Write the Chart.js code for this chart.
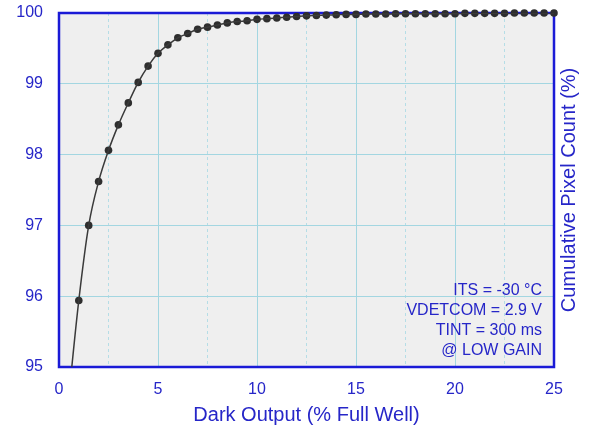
<!DOCTYPE html>
<html>
<head>
<meta charset="utf-8">
<title>Cumulative dark output</title>
<script src="https://cdn.jsdelivr.net/npm/chart.js@4.4.1/dist/chart.umd.min.js"></script>
<style>
  html, body { margin: 0; padding: 0; background: #ffffff; }
  #wrap { width: 594px; height: 430px; }
</style>
</head>
<body>
<div id="wrap"><canvas id="chart" width="594" height="430"></canvas></div>
<script>
// measured points (Dark Output % full well -> cumulative pixel count %)
const darkOutput = [1.0, 1.5, 2.0, 2.5, 3.0, 3.5, 4.0, 4.5, 5.0, 5.5, 6.0, 6.5, 7.0, 7.5, 8.0, 8.5,
    9.0, 9.5, 10.0, 10.5, 11.0, 11.5, 12.0, 12.5, 13.0, 13.5, 14.0, 14.5, 15.0, 15.5, 16.0, 16.5,
    17.0, 17.5, 18.0, 18.5, 19.0, 19.5, 20.0, 20.5, 21.0, 21.5, 22.0, 22.5, 23.0, 23.5, 24.0, 24.5, 25.0];
const pixelCount = [95.94, 97.00, 97.62, 98.06, 98.42, 98.73, 99.02, 99.25, 99.43, 99.55, 99.65, 99.71,
    99.77, 99.80, 99.83, 99.86, 99.88, 99.89, 99.91, 99.92, 99.93, 99.94, 99.95, 99.96, 99.965, 99.97,
    99.975, 99.98, 99.98, 99.985, 99.985, 99.985, 99.99, 99.99, 99.99, 99.99, 99.99, 99.99, 99.99,
    99.995, 99.995, 99.995, 99.995, 99.995, 100.0, 100.0, 100.0, 100.0, 100.0];

// fitted curve (starts below the visible range and is clipped)
const fitX = [0.5, ...darkOutput];
const fitY = [94.6, ...pixelCount];

const xTicks = [0, 5, 10, 15, 20, 25];
const yTicks = [95, 96, 97, 98, 99, 100];
const notes = ['ITS = -30 \u00B0C', 'VDETCOM = 2.9 V', 'TINT = 300 ms', '@ LOW GAIN'];

const BLUE_TEXT = '#2626c8';
const BLUE_LINE = '#1a1ad6';
const FONT = "'Liberation Sans', Arial, Helvetica, sans-serif";

Chart.defaults.font.family = FONT;

const toXY = (xs, ys) => xs.map((x, i) => ({ x, y: ys[i] }));

// drop the label overhang so the layout padding alone sets the plot edges
const noOverhang = (s) => {
    s.paddingTop = 0;
    s.paddingBottom = 0;
    s.paddingLeft = 0;
    s.paddingRight = 0;
};

// plot background + frame + right-hand title + notes
const frame = {
    id: 'frame',
    beforeDraw(chart) {
        const { ctx, chartArea: a } = chart;
        ctx.save();
        ctx.fillStyle = '#efefef';
        ctx.fillRect(a.left, a.top, a.right - a.left, a.bottom - a.top);
        ctx.restore();
    },
    beforeDatasetsDraw(chart) {
        const { ctx, chartArea: a } = chart;
        ctx.save();
        ctx.strokeStyle = BLUE_LINE;
        ctx.lineWidth = 2.5;
        ctx.strokeRect(a.left, a.top, a.right - a.left, a.bottom - a.top);
        ctx.restore();
    },
    afterDraw(chart) {
        const { ctx, chartArea: a } = chart;
        ctx.save();
        ctx.fillStyle = BLUE_TEXT;
        ctx.font = '20px ' + FONT;
        ctx.textAlign = 'center';
        ctx.textBaseline = 'middle';
        ctx.translate(a.right + 15, (a.top + a.bottom) / 2);
        ctx.rotate(-Math.PI / 2);
        ctx.fillText('Cumulative Pixel Count (%)', 0, 0);
        ctx.restore();

        ctx.save();
        ctx.fillStyle = BLUE_TEXT;
        ctx.font = '16px ' + FONT;
        ctx.textAlign = 'right';
        ctx.textBaseline = 'middle';
        notes.forEach((t, i) => {
            ctx.fillText(t, a.right - 12, a.bottom - 76 + i * 19.7);
        });
        ctx.restore();
    }
};

new Chart(document.getElementById('chart'), {
    type: 'scatter',
    data: {
        datasets: [
            {
                label: 'fit',
                type: 'line',
                data: toXY(fitX, fitY),
                borderColor: '#3a3a3a',
                borderWidth: 1.5,
                pointRadius: 0,
                tension: 0.4,
                cubicInterpolationMode: 'monotone',
                fill: false
            },
            {
                label: 'measured',
                data: toXY(darkOutput, pixelCount),
                backgroundColor: '#2e2e2e',
                borderColor: '#2e2e2e',
                pointRadius: 3.8,
                borderWidth: 0,
                clip: false
            }
        ]
    },
    options: {
        responsive: false,
        animation: false,
        layout: { padding: { top: 13, right: 0, bottom: 0, left: 0 } },
        plugins: {
            legend: { display: false },
            tooltip: { enabled: false }
        },
        scales: {
            x: {
                type: 'linear',
                min: 0,
                max: 25,
                afterFit(s) { s.height = 63; noOverhang(s); },
                afterBuildTicks(s) {
                    const t = [];
                    for (let v = 0; v <= 25; v += 2.5) t.push({ value: v });
                    s.ticks = t;
                },
                ticks: {
                    color: BLUE_TEXT,
                    font: { size: 16 },
                    padding: 13,
                    maxRotation: 0,
                    autoSkip: false,
                    callback: (v) => xTicks.includes(v) ? String(v) : ''
                },
                grid: {
                    drawTicks: false,
                    color: (c) => (c.tick && c.tick.value % 5 === 0) ? '#a3d6e1' : '#b5dde6',
                    lineWidth: 1
                },
                border: {
                    display: false,
                    dash: (c) => (c.tick && c.tick.value % 5 !== 0) ? [3, 3] : []
                },
                title: {
                    display: true,
                    text: 'Dark Output (% Full Well)',
                    color: BLUE_TEXT,
                    font: { size: 20 },
                    padding: { top: 0, bottom: 3 }
                }
            },
            y: {
                type: 'linear',
                min: 95,
                max: 100,
                afterFit(s) { s.width = 59; noOverhang(s); },
                afterBuildTicks(s) { s.ticks = yTicks.map(v => ({ value: v })); },
                ticks: {
                    color: BLUE_TEXT,
                    font: { size: 16 },
                    padding: 16
                },
                grid: {
                    drawTicks: false,
                    color: '#a3d6e1',
                    lineWidth: 1
                },
                border: { display: false }
            },
            y2: {
                type: 'linear',
                position: 'right',
                min: 95,
                max: 100,
                afterFit(s) { s.width = 40; noOverhang(s); },
                ticks: { display: false },
                grid: { display: false, drawOnChartArea: false },
                border: { display: false }
            }
        }
    },
    plugins: [frame]
});
</script>
</body>
</html>
